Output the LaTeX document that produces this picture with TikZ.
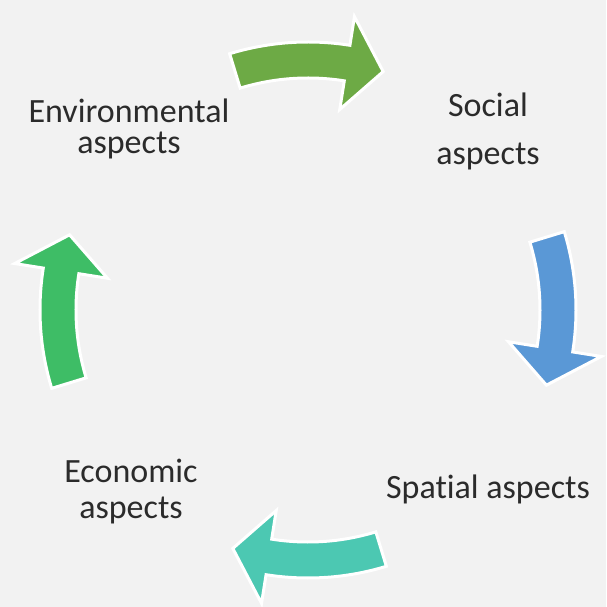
\documentclass[tikz,border=0pt]{standalone}
\usepackage{fontspec}
\setmainfont{Carlito}[Ligatures=NoCommon]
\usepackage{tikz}
\usetikzlibrary{positioning}
\definecolor{bggray}{HTML}{F2F2F2}
\definecolor{txtgray}{HTML}{2B2B2B}
\definecolor{envgreen}{HTML}{6DAA45}
\definecolor{socblue}{HTML}{5A98D6}
\definecolor{spateal}{HTML}{4CC8B2}
\definecolor{ecogreen}{HTML}{3EBD66}
\tikzset{>=stealth}

\begin{document}
\begin{tikzpicture}[x=1pt, y=1pt,
  lbl/.style={font=\fontsize{34}{36}\selectfont, align=center, text=txtgray, inner sep=0pt},
  cyc/.style={fill=#1, draw=white, line width=3pt, line join=miter}]
  \fill[bggray] (-308,-297) rectangle (298,310);
  \useasboundingbox (-308,-297) rectangle (298,310);
  % the four aspects
  \node[lbl]	(env)	at	(-179,181)	{Environmental\\[-5pt]aspects};
  \node[lbl]	(soc)	at	(180,179)	{Social\\[12pt]aspects};
  \node[lbl]	(spa)	at	(180,-179)	{Spatial aspects};
  \node[lbl]	(eco)	at	(-177,-182)	{Economic\\aspects};
  % curved arrows, clockwise round the cycle
  \foreach \c/\col in {90/envgreen, 0/socblue, -90/spateal, 180/ecogreen}
    \draw[cyc=\col] (\c+17:268) arc[start angle=\c+17, end angle=\c-9, radius=268]
      -- (\c-9:297) -- (\c-17.5:250) -- (\c-9:203) -- (\c-9:232)
      arc[start angle=\c-9, end angle=\c+17, radius=232] -- cycle;
\end{tikzpicture}
\end{document}
